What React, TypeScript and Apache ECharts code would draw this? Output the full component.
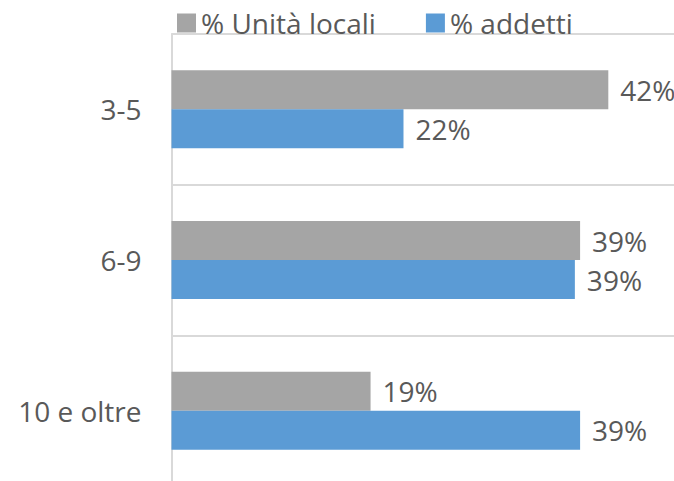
import React, { useEffect, useRef } from "react";
import * as echarts from "echarts";

const categories = ["3-5", "6-9", "10 e oltre"];
const seriesNames = ["% Unità locali", "% addetti"];
const unitaLocali = [41.8, 39.1, 19.05];
const addetti = [22.2, 38.6, 39.1];
const colors = ["#a5a5a5", "#5b9bd5"];

export default function App() {
  const ref = useRef<HTMLDivElement>(null);
  useEffect(() => {
    if (!ref.current) return;
    const chart = echarts.init(ref.current, null, { renderer: "svg" });
    const font = "'Open Sans', sans-serif";
    const label = {
      show: true,
      position: "right",
      distance: 12,
      fontSize: 28,
      fontFamily: font,
      color: "#595959",
      formatter: (p: any) => Math.round(p.value) + "%",
    };
    chart.setOption({
      animation: false,
      backgroundColor: "#ffffff",
      textStyle: { fontFamily: font },
      legend: {
        left: 172,
        top: 4,
        itemWidth: 19,
        itemHeight: 19,
        itemGap: 50,
        icon: "rect",
        textStyle: { fontSize: 28, color: "#595959", fontFamily: font },
        data: seriesNames,
      },
      grid: { left: 171.5, top: 34, right: 0, bottom: 0, containLabel: false },
      xAxis: {
        type: "value",
        min: 0,
        max: 50,
        show: false,
        splitLine: { show: false },
      },
      yAxis: {
        type: "category",
        data: categories,
        inverse: true,
        axisLine: { show: true, lineStyle: { color: "#d9d9d9", width: 2 } },
        axisTick: { show: false },
        splitLine: { show: true, interval: 0, lineStyle: { color: "#d9d9d9", width: 2 } },
        axisLabel: { margin: 30, fontSize: 28, color: "#595959", fontFamily: font },
      },
      series: [
        {
          name: seriesNames[0],
          type: "bar",
          data: unitaLocali,
          barWidth: 39,
          barGap: "0%",
          itemStyle: { color: colors[0] },
          label,
        },
        {
          name: seriesNames[1],
          type: "bar",
          data: addetti,
          barWidth: 39,
          barGap: "0%",
          itemStyle: { color: colors[1] },
          label,
        },
      ],
    });
    return () => chart.dispose();
  }, []);
  return (
    <div
      ref={ref}
      style={{ position: "fixed", left: 0, top: 0, width: 694, height: 485.5 }}
    />
  );
}
